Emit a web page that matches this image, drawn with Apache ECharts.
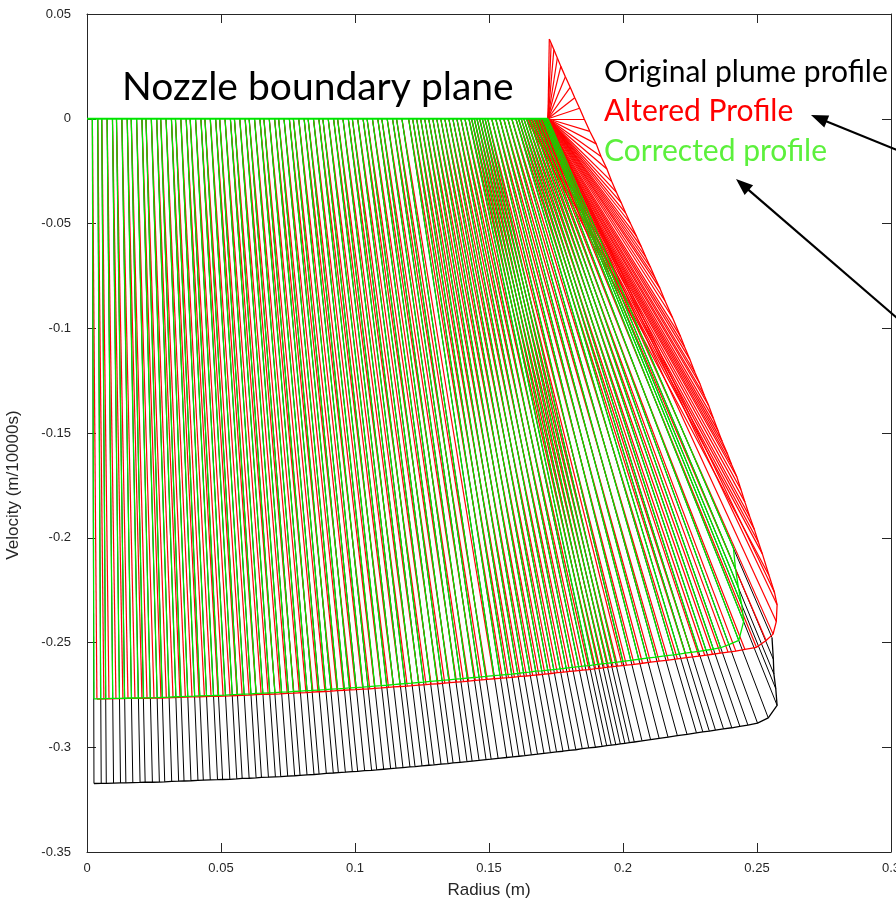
<!DOCTYPE html>
<html><head><meta charset="utf-8">
<script src="https://cdn.jsdelivr.net/npm/echarts@6/dist/echarts.min.js"></script>
<style>html,body{margin:0;padding:0;background:#fff}#chart{width:896px;height:900px}</style>
</head><body><div id="chart"></div>
<script>
// ---- axis ticks ----
const xTickValues = [0, 0.05, 0.1, 0.15, 0.2, 0.25, 0.3];
const yTickValues = [-0.35, -0.3, -0.25, -0.2, -0.15, -0.1, -0.05, 0, 0.05];

// ---- start radius of each trajectory on the nozzle boundary plane (m) ----
const radius = [
0.002,0.004,0.0055,0.0075,0.0095,0.011,0.013,0.015,0.0165,0.0185,
0.0205,0.022,0.024,0.026,0.0275,0.0295,0.0315,0.033,0.035,0.037,
0.0385,0.0405,0.0425,0.044,0.046,0.048,0.0495,0.0515,0.0535,0.055,
0.057,0.059,0.0605,0.0625,0.0645,0.066,0.068,0.070,0.0715,0.0735,
0.0755,0.077,0.079,0.081,0.0825,0.0845,0.0865,0.088,0.090,0.092,
0.0935,0.0955,0.0975,0.099,0.101,0.103,0.1045,0.1065,0.1085,0.110,
0.112,0.114,0.1155,0.1175,0.120,
0.1215,0.123,0.1245,0.126,0.1275,0.129,0.1305,0.132,0.1335,0.135,
0.1365,0.138,0.1395,0.141,0.1425,0.1435,0.1445,0.1455,0.1465,0.1475,
0.1485,0.1495,0.151,0.1525,0.154,0.1555,0.157,0.1585,0.160,0.161,
0.162,0.163,0.164,0.165,0.166,0.167,0.168,0.169,0.170,0.1705,
0.171,0.1715,0.172];

// ---- original plume profile: radial / axial velocity ----
const originalVr = [
0.0006,0.0013,0.0017,0.0024,0.0030,0.0035,0.0041,0.0048,0.0052,0.0059,
0.0065,0.0070,0.0076,0.0082,0.0087,0.0093,0.0099,0.0104,0.0110,0.0117,
0.0121,0.0128,0.0134,0.0139,0.0145,0.0151,0.0156,0.0162,0.0168,0.0173,
0.0179,0.0185,0.0190,0.0196,0.0202,0.0206,0.0213,0.0219,0.0223,0.0229,
0.0235,0.0240,0.0246,0.0252,0.0256,0.0262,0.0268,0.0273,0.0279,0.0285,
0.0289,0.0295,0.0301,0.0305,0.0311,0.0317,0.0321,0.0327,0.0333,0.0337,
0.0343,0.0349,0.0353,0.0359,0.0366,
0.0374,0.0382,0.0389,0.0398,0.0406,0.0415,0.0424,0.0432,0.0441,0.0449,
0.0459,0.0468,0.0477,0.0487,0.0497,0.0504,0.0511,0.0518,0.0525,0.0532,
0.0539,0.0547,0.0561,0.0578,0.0595,0.0613,0.0633,0.0654,0.0674,0.0688,
0.0702,0.0715,0.0735,0.0756,0.0776,0.0796,0.0822,0.0852,0.0875,0.0865,
0.0853,0.0846,0.0836];
const originalVz = [
0.3173,0.3172,0.3172,0.3171,0.3170,0.3170,0.3169,0.3168,0.3167,0.3167,
0.3166,0.3165,0.3163,0.3162,0.3161,0.3160,0.3158,0.3157,0.3156,0.3155,
0.3154,0.3153,0.3151,0.3149,0.3148,0.3146,0.3144,0.3143,0.3141,0.3140,
0.3138,0.3136,0.3134,0.3132,0.3130,0.3128,0.3125,0.3123,0.3121,0.3119,
0.3116,0.3115,0.3112,0.3110,0.3108,0.3105,0.3102,0.3100,0.3097,0.3094,
0.3092,0.3089,0.3086,0.3084,0.3081,0.3078,0.3075,0.3072,0.3069,0.3066,
0.3063,0.3059,0.3057,0.3053,0.3049,
0.3046,0.3043,0.3040,0.3036,0.3033,0.3029,0.3026,0.3022,0.3019,0.3015,
0.3012,0.3007,0.3003,0.3000,0.2996,0.2992,0.2990,0.2987,0.2984,0.2981,
0.2978,0.2975,0.2970,0.2964,0.2958,0.2952,0.2945,0.2939,0.2931,0.2927,
0.2923,0.2918,0.2912,0.2907,0.2900,0.2894,0.2885,0.2860,0.2800,0.2720,
0.2650,0.2580,0.2477];

// ---- altered profile ----
const alteredVr = [
0.0017,0.0023,0.0027,0.0033,0.0039,0.0043,0.0049,0.0055,0.0059,0.0065,
0.0071,0.0076,0.0081,0.0087,0.0092,0.0097,0.0103,0.0108,0.0113,0.0119,
0.0123,0.0129,0.0135,0.0139,0.0145,0.0151,0.0155,0.0161,0.0167,0.0171,
0.0177,0.0182,0.0187,0.0192,0.0198,0.0202,0.0208,0.0214,0.0218,0.0223,
0.0229,0.0233,0.0239,0.0245,0.0249,0.0254,0.0260,0.0264,0.0269,0.0275,
0.0279,0.0284,0.0290,0.0294,0.0300,0.0305,0.0309,0.0314,0.0320,0.0324,
0.0329,0.0334,0.0338,0.0344,0.0350,
0.0358,0.0365,0.0372,0.0380,0.0388,0.0396,0.0404,0.0412,0.0420,0.0428,
0.0436,0.0445,0.0454,0.0463,0.0473,0.0479,0.0485,0.0491,0.0498,0.0505,
0.0512,0.0518,0.0532,0.0548,0.0563,0.0580,0.0599,0.0618,0.0637,0.0650,
0.0663,0.0675,0.0694,0.0713,0.0732,0.0751,0.0775,0.0808,0.0834,0.0855,
0.0862,0.0860,0.0845];
const alteredVz = [
0.2770,0.2769,0.2769,0.2768,0.2768,0.2767,0.2767,0.2766,0.2766,0.2765,
0.2765,0.2764,0.2763,0.2762,0.2761,0.2760,0.2759,0.2758,0.2757,0.2757,
0.2756,0.2755,0.2753,0.2752,0.2751,0.2749,0.2748,0.2747,0.2746,0.2745,
0.2743,0.2742,0.2740,0.2739,0.2737,0.2735,0.2734,0.2732,0.2730,0.2728,
0.2726,0.2725,0.2723,0.2721,0.2719,0.2717,0.2714,0.2712,0.2710,0.2708,
0.2706,0.2703,0.2701,0.2699,0.2697,0.2694,0.2692,0.2689,0.2687,0.2684,
0.2681,0.2678,0.2676,0.2673,0.2670,
0.2668,0.2665,0.2662,0.2660,0.2657,0.2654,0.2651,0.2648,0.2644,0.2641,
0.2638,0.2635,0.2632,0.2629,0.2625,0.2623,0.2620,0.2618,0.2615,0.2613,
0.2610,0.2608,0.2604,0.2599,0.2594,0.2589,0.2584,0.2578,0.2572,0.2569,
0.2565,0.2561,0.2556,0.2551,0.2546,0.2541,0.2533,0.2523,0.2490,0.2460,
0.2400,0.2320,0.2260];
// altered profile: extra vectors near the nozzle lip (start radius, radial, axial)
const alteredLipR = [
0.1640,0.1645,0.1650,0.1655,0.1660,0.1665,0.1668,0.1671,0.1674,0.1677,
0.1680,0.1683,0.1686,0.1689,0.1692,0.1695,0.1698,0.1701,0.1704,0.1707,
0.1710,0.1712,0.1714,0.1716,0.1718,0.1720,0.172,0.172,0.172,0.172,
0.172,0.172,0.172,0.172,0.172,0.172,0.172,0.172,0.172,0.172,
0.172,0.172,0.172,0.172,0.172,0.172,0.172];
const alteredLipVr = [
0.0905,0.0875,0.0855,0.0835,0.0813,0.0790,0.0772,0.0754,0.0731,0.0713,
0.0690,0.0672,0.0651,0.0631,0.0611,0.0592,0.0570,0.0549,0.0526,0.0508,
0.0475,0.0445,0.0424,0.0404,0.0385,0.0365,0.0348,0.0330,0.0308,0.0290,
0.0273,0.0255,0.0238,0.0220,0.0198,0.0180,0.0156,0.0135,0.0118,0.0100,
0.0083,0.0065,0.0048,0.0035,0.0022,0.0012,0.0005];
const alteredLipVz = [
0.218,0.2077,0.202,0.196,0.190,0.183,0.177,0.171,0.165,0.160,
0.154,0.149,0.143,0.137,0.132,0.1265,0.121,0.115,0.109,0.104,
0.095,0.087,0.081,0.076,0.071,0.066,0.061,0.056,0.050,0.045,
0.040,0.035,0.030,0.024,0.018,0.012,0.006,0.000,-0.005,-0.010,
-0.015,-0.020,-0.025,-0.029,-0.033,-0.036,-0.038];

// ---- corrected profile ----
const correctedVr = [
0.0006,0.0011,0.0015,0.0021,0.0026,0.0030,0.0036,0.0041,0.0046,0.0051,
0.0057,0.0061,0.0066,0.0072,0.0076,0.0081,0.0087,0.0091,0.0096,0.0102,
0.0106,0.0111,0.0117,0.0121,0.0126,0.0132,0.0136,0.0141,0.0147,0.0151,
0.0156,0.0161,0.0165,0.0171,0.0176,0.0180,0.0185,0.0191,0.0195,0.0200,
0.0205,0.0209,0.0214,0.0220,0.0224,0.0229,0.0234,0.0238,0.0243,0.0248,
0.0252,0.0257,0.0262,0.0266,0.0271,0.0276,0.0280,0.0285,0.0290,0.0294,
0.0299,0.0304,0.0308,0.0313,0.0319,
0.0326,0.0333,0.0340,0.0347,0.0354,0.0362,0.0369,0.0377,0.0384,0.0392,
0.0400,0.0408,0.0416,0.0425,0.0434,0.0440,0.0445,0.0451,0.0458,0.0464,
0.0470,0.0477,0.0490,0.0504,0.0519,0.0534,0.0553,0.0570,0.0589,0.0600,
0.0612,0.0624,0.0642,0.0660,0.0677,0.0694,0.0715,0.0742,0.0750,0.0738,
0.0721,0.0705,0.0692];
const correctedVz = [
0.2769,0.2769,0.2768,0.2767,0.2767,0.2766,0.2765,0.2765,0.2764,0.2764,
0.2763,0.2762,0.2761,0.2759,0.2758,0.2757,0.2756,0.2755,0.2754,0.2753,
0.2752,0.2751,0.2749,0.2748,0.2746,0.2745,0.2743,0.2742,0.2740,0.2739,
0.2737,0.2736,0.2734,0.2732,0.2730,0.2729,0.2727,0.2725,0.2723,0.2721,
0.2719,0.2717,0.2715,0.2713,0.2711,0.2708,0.2706,0.2704,0.2701,0.2698,
0.2696,0.2694,0.2691,0.2689,0.2686,0.2683,0.2681,0.2678,0.2675,0.2673,
0.2670,0.2667,0.2665,0.2662,0.2658,
0.2656,0.2653,0.2651,0.2648,0.2644,0.2641,0.2637,0.2635,0.2632,0.2629,
0.2626,0.2622,0.2619,0.2615,0.2612,0.2610,0.2607,0.2604,0.2602,0.2600,
0.2597,0.2595,0.2590,0.2585,0.2580,0.2575,0.2570,0.2564,0.2559,0.2555,
0.2551,0.2547,0.2542,0.2537,0.2532,0.2525,0.2510,0.2490,0.2400,0.2320,
0.2240,0.2150,0.2050];

// ---- build segments from the data ----
function segments(starts, vr, vz) {
  return vr.map((v, i) => ({ coords: [[starts[i], 0], [starts[i] + v, -vz[i]]] }));
}
function tips(starts, vr, vz) {
  return vr.map((v, i) => [starts[i] + v, -vz[i]]);
}

const origSeg = segments(radius, originalVr, originalVz);
const altSeg = segments(radius, alteredVr, alteredVz).concat(segments(alteredLipR, alteredLipVr, alteredLipVz));
const corSeg = segments(radius, correctedVr, correctedVz);
const origTip = tips(radius, originalVr, originalVz);
const altTip = tips(radius, alteredVr, alteredVz).concat(tips(alteredLipR, alteredLipVr, alteredLipVz));
const corTip = tips(radius, correctedVr, correctedVz);
const planeLine = [[0, 0], [radius[radius.length - 1], 0]];

const BLACK = '#000000', RED = '#ff0000', GREEN = '#00e600';
const AX = '#262626';
const fmt = v => String(parseFloat(v.toFixed(4)));

function xAxisCfg(pos) {
  return {
    type: 'value', position: pos,
    min: xTickValues[0], max: xTickValues[xTickValues.length - 1],
    interval: xTickValues[1] - xTickValues[0],
    axisLine: { show: true, onZero: false, lineStyle: { color: AX, width: 1 } },
    axisTick: { show: true, inside: true, length: 9, lineStyle: { color: AX } },
    axisLabel: pos === 'bottom'
      ? { show: true, color: AX, fontSize: 13, fontFamily: 'Liberation Sans, Arial, sans-serif', margin: 10, formatter: fmt }
      : { show: false },
    splitLine: { show: false }
  };
}
function yAxisCfg(pos) {
  return {
    type: 'value', position: pos,
    min: yTickValues[0], max: yTickValues[yTickValues.length - 1],
    interval: yTickValues[1] - yTickValues[0],
    axisLine: { show: true, onZero: false, lineStyle: { color: AX, width: 1 } },
    axisTick: { show: true, inside: true, length: 9, lineStyle: { color: AX } },
    axisLabel: pos === 'left'
      ? { show: true, color: AX, fontSize: 13, fontFamily: 'Liberation Sans, Arial, sans-serif', margin: 16, formatter: fmt }
      : { show: false },
    splitLine: { show: false }
  };
}

function arrow(x1, y1, x2, y2) {
  const dx = x2 - x1, dy = y2 - y1, L = Math.hypot(dx, dy);
  const ux = dx / L, uy = dy / L, nx = -uy, ny = ux;
  const hl = 17, hw = 6.5;
  const bx = x2 - ux * hl, by = y2 - uy * hl;
  return [
    { type: 'line', silent: true, z: 100, shape: { x1: x1, y1: y1, x2: bx + ux * 2, y2: by + uy * 2 }, style: { stroke: '#000', lineWidth: 2.2 } },
    { type: 'polygon', silent: true, z: 100, shape: { points: [[x2, y2], [bx + nx * hw, by + ny * hw], [bx - nx * hw, by - ny * hw]] }, style: { fill: '#000' } }
  ];
}

const chart = echarts.init(document.getElementById('chart'), null, { renderer: 'canvas' });
const option = {
  animation: false,
  backgroundColor: '#ffffff',
  grid: { left: 87, right: 5, top: 14, bottom: 48, containLabel: false, outerBoundsMode: 'none' },
  xAxis: [xAxisCfg('bottom'), xAxisCfg('top')],
  yAxis: [yAxisCfg('left'), yAxisCfg('right')],
  series: [
    { type: 'lines', coordinateSystem: 'cartesian2d', polyline: false, silent: true, z: 2,
      data: origSeg, lineStyle: { color: BLACK, width: 1, opacity: 1 } },
    { type: 'line', data: origTip, showSymbol: false, silent: true, z: 3,
      lineStyle: { color: BLACK, width: 1.3 } },
    { type: 'lines', coordinateSystem: 'cartesian2d', polyline: false, silent: true, z: 4,
      data: altSeg, lineStyle: { color: RED, width: 1.2, opacity: 1 } },
    { type: 'line', data: altTip, showSymbol: false, silent: true, z: 5,
      lineStyle: { color: RED, width: 1.3 } },
    { type: 'lines', coordinateSystem: 'cartesian2d', polyline: false, silent: true, z: 6,
      data: corSeg, lineStyle: { color: GREEN, width: 1.25, opacity: 1 } },
    { type: 'line', data: corTip, showSymbol: false, silent: true, z: 7,
      lineStyle: { color: GREEN, width: 1.3 } },
    { type: 'line', data: planeLine, showSymbol: false, silent: true, z: 8,
      lineStyle: { color: GREEN, width: 2 } }
  ],
  graphic: [
    { type: 'text', x: 122, y: 87, z: 100, silent: true,
      style: { text: 'Nozzle boundary plane', font: '39px Lato', fill: '#000', align: 'left', verticalAlign: 'middle' } },
    { type: 'text', x: 604, y: 72, z: 100, silent: true,
      style: { text: 'Original plume profile', font: '30px Lato', fill: '#000', align: 'left', verticalAlign: 'middle' } },
    { type: 'text', x: 604, y: 111, z: 100, silent: true,
      style: { text: 'Altered Profile', font: '30px Lato', fill: '#ff0000', align: 'left', verticalAlign: 'middle' } },
    { type: 'text', x: 604, y: 151, z: 100, silent: true,
      style: { text: 'Corrected profile', font: '30px Lato', fill: '#5cf03c', align: 'left', verticalAlign: 'middle' } },
    { type: 'text', x: 13, y: 485, rotation: Math.PI / 2, z: 100, silent: true,
      style: { text: 'Velocity (m/10000s)', font: '17px "Liberation Sans"', fill: AX, align: 'center', verticalAlign: 'middle' } },
    { type: 'text', x: 489, y: 890, z: 100, silent: true,
      style: { text: 'Radius (m)', font: '17px "Liberation Sans"', fill: AX, align: 'center', verticalAlign: 'middle' } }
  ].concat(arrow(897, 150, 811, 115)).concat(arrow(897, 318, 736, 179))
};
chart.setOption(option);
</script>
</body></html>
